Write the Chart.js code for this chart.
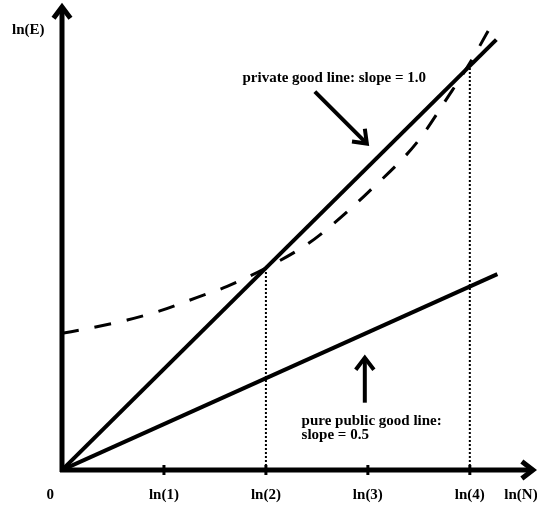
<!DOCTYPE html>
<html>
<head>
<meta charset="utf-8">
<script src="https://cdn.jsdelivr.net/npm/chart.js@4"></script>
<style>
  html, body { margin:0; padding:0; background:#fff; }
</style>
</head>
<body>
<canvas id="chart" width="537" height="508"></canvas>
<script>
// Values (x = ln(N), y = ln(E))
const tickValues = [0, 1, 2, 3, 4];
const tickLabels = ['0', 'ln(1)', 'ln(2)', 'ln(3)', 'ln(4)'];
const xTitle = 'ln(N)';
const yTitle = 'ln(E)';

const privateX = [0, 4.26];
const privateY = [0, 4.22];
const publicX = [0, 4.27];
const publicY = [0, 1.92];
const curveX = [0, 0.27, 0.64, 0.96, 1.32, 1.62, 2, 2.4, 2.61, 3.0, 3.48, 3.8, 4.0, 4.25];
const curveY = [1.34, 1.39, 1.47, 1.56, 1.69, 1.80, 1.98, 2.21, 2.37, 2.72, 3.21, 3.68, 3.99, 4.43];
// dotted drop lines at the crossings
const dropX = [2, 4];
const dropY = [1.98, 3.99];

const privateText = 'private good line: slope = 1.0';
const publicText = ['pure public good line:', 'slope = 0.5'];

const toPoints = (xs, ys) => xs.map((x, i) => ({x: x, y: ys[i]}));

const FONT = 'bold 15px "Liberation Serif", "DejaVu Serif", serif';

function arrowHead(ctx, tipX, tipY, fromX, fromY, size) {
    const a = Math.atan2(tipY - fromY, tipX - fromX);
    ctx.beginPath();
    ctx.moveTo(tipX - size * Math.cos(a - 0.65), tipY - size * Math.sin(a - 0.65));
    ctx.lineTo(tipX, tipY);
    ctx.lineTo(tipX - size * Math.cos(a + 0.65), tipY - size * Math.sin(a + 0.65));
    ctx.stroke();
}

// Axes, arrows and labels drawn on top of the library's scales
const sketchPlugin = {
    id: 'sketch',
    afterDatasetsDraw(chart) {
        const ctx = chart.ctx;
        const xs = chart.scales.x, ys = chart.scales.y;
        const area = chart.chartArea;
        const ox = xs.getPixelForValue(0), oy = ys.getPixelForValue(0);
        ctx.save();
        ctx.strokeStyle = '#000';
        ctx.fillStyle = '#000';
        ctx.lineCap = 'butt';

        // axes
        ctx.lineWidth = 5;
        ctx.beginPath();
        ctx.moveTo(ox, oy + 2);
        ctx.lineTo(ox, area.top - 3);
        ctx.moveTo(ox - 2, oy);
        ctx.lineTo(area.right + 1, oy);
        ctx.stroke();
        ctx.lineWidth = 5;
        arrowHead(ctx, ox, area.top - 4, ox, oy, 14);
        arrowHead(ctx, area.right + 2, oy, ox, oy, 14);

        // tick marks
        ctx.lineWidth = 3;
        tickValues.forEach(v => {
            if (v === 0) return;
            const px = xs.getPixelForValue(v);
            ctx.beginPath();
            ctx.moveTo(px, oy - 5);
            ctx.lineTo(px, oy + 5);
            ctx.stroke();
        });

        // tick labels
        ctx.font = FONT;
        ctx.textBaseline = 'middle';
        tickValues.forEach((v, i) => {
            const px = xs.getPixelForValue(v);
            if (v === 0) {
                ctx.textAlign = 'right';
                ctx.fillText(tickLabels[i], px - 8, oy + 25);
            } else {
                ctx.textAlign = 'center';
                ctx.fillText(tickLabels[i], px, oy + 25);
            }
        });
        ctx.textAlign = 'center';
        ctx.fillText(xTitle, area.right - 10, oy + 25);
        ctx.textAlign = 'left';
        ctx.fillText(yTitle, 12, 30);

        // annotation: private good line
        ctx.fillText(privateText, xs.getPixelForValue(1.77), ys.getPixelForValue(3.84));
        ctx.lineWidth = 4;
        let x1 = xs.getPixelForValue(2.48), y1 = ys.getPixelForValue(3.71);
        let x2 = xs.getPixelForValue(2.99), y2 = ys.getPixelForValue(3.2);
        ctx.beginPath();
        ctx.moveTo(x1, y1);
        ctx.lineTo(x2, y2);
        ctx.stroke();
        arrowHead(ctx, x2, y2, x1, y1, 15);

        // annotation: pure public good line
        publicText.forEach((t, i) => {
            ctx.fillText(t, xs.getPixelForValue(2.35), ys.getPixelForValue(0.48) + i * 14);
        });
        x1 = xs.getPixelForValue(2.97); y1 = ys.getPixelForValue(0.66);
        y2 = ys.getPixelForValue(1.1);
        ctx.beginPath();
        ctx.moveTo(x1, y1);
        ctx.lineTo(x1, y2);
        ctx.stroke();
        arrowHead(ctx, x1, y2, x1, y1, 15);

        ctx.restore();
    }
};

const dropSets = dropX.map((x, i) => ({
    data: [{x: x, y: 0}, {x: x, y: dropY[i]}],
    showLine: true, borderColor: '#000', borderWidth: 2, borderDash: [2, 2],
    pointRadius: 0
}));

new Chart(document.getElementById('chart').getContext('2d'), {
    type: 'scatter',
    data: {
        datasets: [
            {label: 'private good line', data: toPoints(privateX, privateY), showLine: true,
             borderColor: '#000', borderWidth: 4, pointRadius: 0},
            {label: 'pure public good line', data: toPoints(publicX, publicY), showLine: true,
             borderColor: '#000', borderWidth: 4, pointRadius: 0},
            {label: 'curve', data: toPoints(curveX, curveY), showLine: true,
             borderColor: '#000', borderWidth: 3, borderDash: [17, 16], pointRadius: 0,
             cubicInterpolationMode: 'monotone'}
        ].concat(dropSets)
    },
    options: {
        responsive: false,
        animation: false,
        devicePixelRatio: 1,
        layout: {padding: {left: 62, right: 6, top: 11, bottom: 38}},
        plugins: {legend: {display: false}, tooltip: {enabled: false}},
        scales: {
            x: {type: 'linear', min: 0, max: 4.6, display: false},
            y: {type: 'linear', min: 0, max: 4.5, display: false}
        }
    },
    plugins: [sketchPlugin]
});
</script>
</body>
</html>
